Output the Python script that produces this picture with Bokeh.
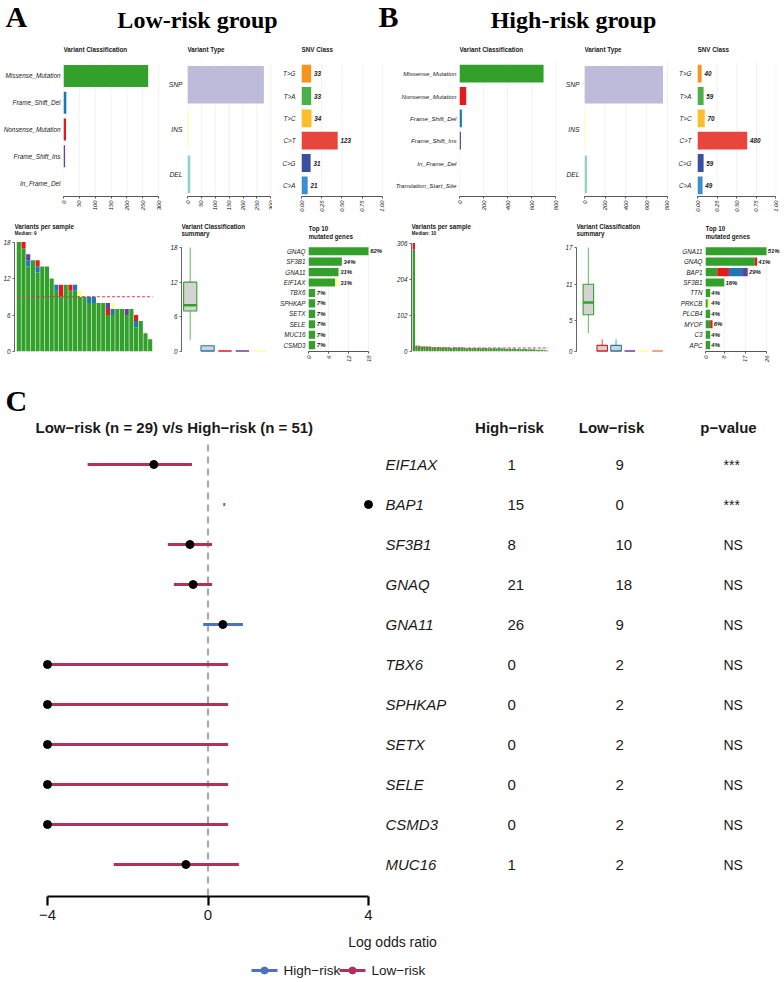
import math
from bokeh.plotting import figure
from bokeh.models import Range1d, LinearAxis, FixedTicker, NumeralTickFormatter
from bokeh.layouts import column, row
from bokeh.embed import file_html
from bokeh.resources import INLINE
from bokeh.core.properties import value

SANS = "Liberation Sans"
SERIF = "Liberation Serif"
TXT = "#1a1a1a"

# ======================= DATA =======================
panel_letters = ["A", "B", "C"]
group_titles = ["Low-risk group", "High-risk group"]

lr_vc_names = ["Missense_Mutation", "Frame_Shift_Del", "Nonsense_Mutation", "Frame_Shift_Ins", "In_Frame_Del"]
lr_vc_counts = [267, 9, 8, 5, 1]
hr_vc_names = ["Missense_Mutation", "Nonsense_Mutation", "Frame_Shift_Del", "Frame_Shift_Ins",
               "In_Frame_Del", "Translation_Start_Site"]
hr_vc_counts = [700, 56, 20, 12, 4, 1]

vt_names = ["SNP", "INS", "DEL"]
lr_vt_counts = [275, 5, 10]
hr_vt_counts = [757, 12, 24]

snv_names = ["T>G", "T>A", "T>C", "C>T", "C>G", "C>A"]
lr_snv_counts = [33, 33, 34, 123, 31, 21]
hr_snv_counts = [40, 59, 70, 480, 59, 49]

# variants per sample (stacked by classification)
lr_median = 9
lr_mis = [18, 17, 14, 15, 13, 14, 14, 12, 10, 9, 11, 10, 10, 9, 9, 8, 8, 8, 8, 6, 6, 7, 7, 6, 7, 4, 5, 3, 2]
lr_fsd = [0, 0, 1, 0, 1, 0, 0, 0, 1, 0, 0, 0, 1, 0, 0, 1, 1, 0, 0, 0, 1, 0, 0, 0, 0, 1, 0, 0, 0]
lr_non = [0, 1, 0, 0, 1, 0, 0, 0, 0, 2, 0, 1, 0, 0, 0, 0, 0, 0, 0, 1, 0, 0, 0, 0, 0, 1, 0, 0, 0]
lr_fsi = [0, 0, 1, 0, 0, 0, 0, 0, 0, 0, 0, 0, 0, 0, 0, 0, 0, 0, 0, 1, 0, 0, 0, 1, 0, 0, 0, 0, 0]
lr_ifd = [0, 0, 0, 0, 0, 0, 0, 0, 0, 0, 0, 0, 0, 1, 0, 0, 0, 0, 0, 0, 1, 0, 0, 0, 0, 0, 0, 0, 0]

hr_median = 10
hr_mis = [288, 16, 15, 14, 14, 13, 13, 12, 12, 12, 11, 11, 11, 11, 10, 10, 10, 11, 10, 9,
          9, 10, 9, 9, 10, 9, 9, 10, 8, 9, 8, 9, 9, 8, 8, 7, 8, 7, 8, 7,
          6, 6, 7, 6, 6, 6, 5, 5, 5, 4, 3]
hr_fsd = [0, 0, 0, 1, 0, 0, 1, 0, 1, 0, 0, 0, 1, 0, 0, 0, 1, 0, 0, 0,
          0, 0, 1, 0, 0, 0, 0, 0, 1, 0, 0, 0, 0, 1, 0, 0, 0, 0, 0, 0,
          1, 0, 0, 0, 0, 0, 0, 0, 0, 0, 0]
hr_non = [18, 1, 1, 0, 1, 1, 0, 1, 0, 1, 0, 1, 0, 1, 0, 1, 0, 0, 1, 0,
          1, 0, 0, 1, 0, 0, 1, 0, 0, 0, 1, 0, 0, 0, 0, 1, 0, 0, 0, 0,
          0, 1, 0, 0, 0, 0, 0, 0, 0, 0, 0]
hr_fsi = [0, 0, 0, 0, 0, 0, 0, 0, 0, 0, 1, 0, 0, 0, 0, 0, 0, 0, 0, 0,
          0, 0, 0, 0, 0, 1, 0, 0, 0, 0, 0, 0, 0, 0, 0, 0, 0, 1, 0, 0,
          0, 0, 0, 0, 0, 0, 0, 0, 0, 0, 0]
hr_ifd = [0, 0, 0, 0, 0, 0, 0, 0, 0, 0, 0, 0, 0, 0, 1, 0, 0, 0, 0, 0,
          0, 0, 0, 0, 0, 0, 0, 0, 0, 0, 0, 0, 0, 0, 0, 0, 0, 0, 0, 0,
          0, 0, 0, 0, 0, 0, 0, 0, 0, 0, 0]
hr_tss = [0, 0, 0, 0, 0, 0, 0, 0, 0, 0, 0, 0, 0, 0, 0, 0, 0, 0, 0, 1,
          0, 0, 0, 0, 0, 0, 0, 0, 0, 0, 0, 0, 0, 0, 0, 0, 0, 0, 0, 0,
          0, 0, 0, 0, 0, 0, 0, 0, 0, 0, 0]

# variant classification summary (box statistics per class)
lr_sum_lo = [2, 0, 0, 0, 0]
lr_sum_q1 = [7, 0, 0, 0, 0]
lr_sum_med = [8, 0, 0, 0, 0]
lr_sum_q3 = [12, 1, 0, 0, 0]
lr_sum_hi = [18, 1, 0, 0, 0]
hr_sum_lo = [3, 0, 0, 0, 0, 0]
hr_sum_q1 = [6, 0, 0, 0, 0, 0]
hr_sum_med = [8, 0, 0, 0, 0, 0]
hr_sum_q3 = [11, 1, 1, 0, 0, 0]
hr_sum_hi = [17, 2, 2, 0, 0, 0]

# top 10 mutated genes
lr_genes = ["GNAQ", "SF3B1", "GNA11", "EIF1AX", "TBX6", "SPHKAP", "SETX", "SELE", "MUC16", "CSMD3"]
lr_g_mis = [18, 10, 9, 8, 2, 2, 2, 2, 2, 2]
lr_g_ifd = [0, 0, 0, 1, 0, 0, 0, 0, 0, 0]
lr_g_pct = ["62%", "34%", "31%", "31%", "7%", "7%", "7%", "7%", "7%", "7%"]
hr_genes = ["GNA11", "GNAQ", "BAP1", "SF3B1", "TTN", "PRKCB", "PLCB4", "MYOF", "C3", "APC"]
hr_g_mis = [26, 21, 5, 8, 2, 1, 2, 2, 2, 2]
hr_g_non = [0, 1, 5, 0, 0, 0, 0, 1, 0, 0]
hr_g_fsd = [0, 0, 6, 0, 0, 0, 0, 0, 0, 0]
hr_g_fsi = [0, 0, 2, 0, 0, 0, 0, 0, 0, 0]
hr_g_ifd = [0, 0, 0, 0, 0, 1, 0, 0, 0, 0]
hr_g_pct = ["51%", "41%", "29%", "16%", "4%", "4%", "4%", "6%", "4%", "4%"]

# tick values
lr_vc_ticks = [0, 50, 100, 150, 200, 250, 300]
hr_vc_ticks = [0, 200, 400, 600, 800]
snv_ticks = [0, 0.25, 0.5, 0.75, 1.0]
lr_vps_ticks = [0, 6, 12, 18]
hr_vps_ticks = [0, 102, 204, 306]
lr_sum_ticks = [0, 6, 12, 18]
hr_sum_ticks = [0, 5, 11, 17]
lr_top_ticks = [0, 6, 12, 18]
hr_top_ticks = [0, 8, 17, 26]

# forest plot (Low-risk vs High-risk)
forest_title = "Low\u2212risk (n = 29) v/s High\u2212risk (n = 51)"
forest_genes = ["EIF1AX", "BAP1", "SF3B1", "GNAQ", "GNA11", "TBX6", "SPHKAP", "SETX", "SELE", "CSMD3", "MUC16"]
forest_high = [1, 15, 8, 21, 26, 0, 0, 0, 0, 0, 1]
forest_low = [9, 0, 10, 18, 9, 2, 2, 2, 2, 2, 2]
forest_p = ["***", "***", "NS", "NS", "NS", "NS", "NS", "NS", "NS", "NS", "NS"]
forest_est = [-1.35, 4.0, -0.45, -0.37, 0.37, -4.0, -4.0, -4.0, -4.0, -4.0, -0.55]
forest_lo = [-3.0, 0.38, -1.0, -0.85, -0.12, -4.0, -4.0, -4.0, -4.0, -4.0, -2.35]
forest_hi = [-0.4, 0.43, 0.1, 0.1, 0.87, 0.5, 0.5, 0.5, 0.5, 0.5, 0.77]
forest_grp = ["Low", "High", "Low", "Low", "High", "Low", "Low", "Low", "Low", "Low", "Low"]
forest_ticks = [-4, 0, 4]
forest_headers = ["High\u2212risk", "Low\u2212risk", "p\u2212value"]
legend_labels = ["High\u2212risk", "Low\u2212risk"]

# ======================= STYLE =======================
VC_COL = {"Missense_Mutation": "#33A02C", "Frame_Shift_Del": "#1F78B4",
          "Nonsense_Mutation": "#E31A1C", "Frame_Shift_Ins": "#6A3D9A",
          "In_Frame_Del": "#FFFF99", "Translation_Start_Site": "#F4845F"}
VT_COL = ["#BEBADA", "#FFFFB3", "#8DD3C7"]
SNV_COL = ["#F7941D", "#4DAF4A", "#FDBE2C", "#E8453C", "#3A4FA0", "#3C8DD3"]
HI_COL = "#4A72C2"
LO_COL = "#B3305E"
GRID = "#EDEDED"


def mkfig(W, H, bl, br, bt, bb, xr, yr):
    p = figure(width=W, height=H, x_range=Range1d(*xr), y_range=Range1d(*yr),
               output_backend="svg", toolbar_location=None,
               x_axis_location=None, y_axis_location=None,
               min_border_left=bl, min_border_right=br,
               min_border_top=bt, min_border_bottom=bb)
    p.outline_line_color = None
    p.background_fill_color = "white"
    p.border_fill_color = "white"
    p.xgrid.visible = False
    p.ygrid.visible = False
    return p


def txt(p, x, y, text, size, style="normal", align="left", font=SANS, color=TXT):
    p.text(x=x, y=y, text=text, text_font=value(font), text_font_size=size,
           text_font_style=style, text_align=align, text_baseline="middle", text_color=color)


def cat_axis(p, labels, size, standoff):
    ax = LinearAxis(ticker=FixedTicker(ticks=list(range(len(labels)))),
                    major_label_overrides={i: t for i, t in enumerate(labels)})
    ax.axis_line_color = None
    ax.major_tick_line_color = None
    ax.major_tick_out = 0
    ax.major_tick_in = 0
    ax.minor_tick_line_color = None
    ax.minor_tick_out = 0
    ax.major_label_text_font = SANS
    ax.major_label_text_font_size = size
    ax.major_label_text_font_style = "italic"
    ax.major_label_text_color = TXT
    ax.major_label_standoff = standoff
    p.add_layout(ax, "left")


def num_axis(p, ticks, place, size="5.8px", rotate=False, fmt=None, color="#444444"):
    ax = LinearAxis(ticker=FixedTicker(ticks=ticks), bounds=(ticks[0], ticks[-1]))
    if fmt is not None:
        ax.formatter = fmt
    ax.axis_line_color = color
    ax.axis_line_width = 0.9
    ax.major_tick_line_color = color
    ax.major_tick_line_width = 0.9
    ax.major_tick_out = 2
    ax.major_tick_in = 0
    ax.minor_tick_line_color = None
    ax.minor_tick_out = 0
    ax.major_label_text_font = SANS
    ax.major_label_text_font_size = size
    ax.major_label_text_font_style = "italic"
    ax.major_label_text_color = TXT
    ax.major_label_standoff = 2
    if rotate:
        ax.major_label_orientation = math.pi / 2
    p.add_layout(ax, place)


def vgrid(p, ticks, y0, y1):
    p.segment(x0=ticks, y0=[y0] * len(ticks), x1=ticks, y1=[y1] * len(ticks),
              line_color=GRID, line_width=0.7)


# ======================= HEADER (page y 0..40) =======================
hdr = mkfig(784, 40, 0, 0, 0, 0, (0, 784), (40, 0))
txt(hdr, [5, 378], [16, 16], panel_letters[:2], "30px", "bold", font=SERIF, color="black")
txt(hdr, [197, 573], [19, 19], group_titles, "24px", "bold", "center", font=SERIF, color="black")


# ======================= ROW 1 (page y 40..215) =======================
def bar_panel(W, bl, br, xmax, names, vals, colors, ticks, title, lab_size, standoff,
              fmt=None, bar_h=0.82, value_text=None):
    n = len(names)
    band = (196 - 62) / n
    xr = (0, xmax)
    yr = (n - 0.5, -0.5 - (62 - 40) / band)
    p = mkfig(W, 175, bl, br, 0, 19, xr, yr)
    vgrid(p, ticks, -0.5, n - 0.5)
    p.hbar(y=list(range(n)), left=0, right=vals, height=bar_h,
           fill_color=colors, line_color=None)
    if value_text is not None:
        txt(p, [v + 0.035 for v in vals], list(range(n)), value_text, "6.3px", "bold italic")
    cat_axis(p, names, lab_size, standoff)
    num_axis(p, ticks, "below", rotate=True, fmt=fmt)
    txt(p, [0], [-0.5 - (62 - 49) / band], [title], "6.3px", "bold")
    return p


lr_snv_frac = [c / sum(lr_snv_counts) for c in lr_snv_counts]
hr_snv_frac = [c / sum(hr_snv_counts) for c in hr_snv_counts]
f2 = NumeralTickFormatter(format="0.00")

a_vc = bar_panel(165, 62, 4, 309, lr_vc_names, lr_vc_counts,
                 [VC_COL[k] for k in lr_vc_names], lr_vc_ticks, "Variant Classification", "6.4px", 3)
a_vt = bar_panel(107, 22, 0, 306, vt_names, lr_vt_counts, VT_COL, lr_vc_ticks,
                 "Variant Type", "6.7px", 5, bar_h=0.84)
a_snv = bar_panel(120, 29, 8, 1.025, snv_names, lr_snv_frac, SNV_COL, snv_ticks,
                  "SNV Class", "6.3px", 6, fmt=f2, bar_h=0.8,
                  value_text=[str(c) for c in lr_snv_counts])
b_vc = bar_panel(170, 67, 5, 816, hr_vc_names, hr_vc_counts,
                 [VC_COL[k] for k in hr_vc_names], hr_vc_ticks, "Variant Classification", "6.2px", 3,
                 bar_h=0.8)
b_vt = bar_panel(113, 21, 7, 810, vt_names, hr_vt_counts, VT_COL, hr_vc_ticks,
                 "Variant Type", "6.7px", 5, bar_h=0.84)
b_snv = bar_panel(109, 22, 7, 1.02, snv_names, hr_snv_frac, SNV_COL, snv_ticks,
                  "SNV Class", "6.3px", 6, fmt=f2, bar_h=0.8,
                  value_text=[str(c) for c in hr_snv_counts])


# ======================= ROW 2 (page y 215..365) =======================
def vps_panel(W, bl, br, xr, ytop_px, ticks, layers, colors, median, sub):
    ppu = (353 - ytop_px) / ticks[-1]
    yr = (0, ticks[-1] + (ytop_px - 215) / ppu)
    p = mkfig(W, 150, bl, br, 0, 12, xr, yr)
    n = len(layers[0])
    xs = [i + 0.5 for i in range(n)]
    base = [0] * n
    for vals, col in zip(layers, colors):
        top = [b + v for b, v in zip(base, vals)]
        p.vbar(x=xs, bottom=base, top=top, width=0.88, fill_color=col, line_color=None)
        base = top
    p.line(x=[0.1, n], y=[median, median], line_color="#E8315B", line_width=1.1,
           line_dash="3 2")
    num_axis(p, ticks, "left", size="6.3px", color="#555555")
    txt(p, [xr[0]], [(353 - 226) / ppu], ["Variants per sample"], "6.3px", "bold")
    txt(p, [xr[0]], [(353 - 233) / ppu], [sub], "4.8px", "bold")
    return p


def sum_panel(W, bl, br, xr, top_px, lo, q1, med, q3, hi, colors, ticks):
    ppu = (351 - top_px) / ticks[-1]
    yr = (0, ticks[-1] + (top_px - 215) / ppu)
    p = mkfig(W, 150, bl, br, 0, 14, xr, yr)
    n = len(lo)
    xs = list(range(n))
    w = 0.76
    p.segment(x0=xs, y0=lo, x1=xs, y1=hi, line_color=colors, line_width=1.1, line_alpha=0.7)
    p.quad(left=[x - w / 2 for x in xs], right=[x + w / 2 for x in xs], bottom=q1, top=q3,
           fill_color="#D3D3D3", line_color=colors, line_width=1.1)
    p.segment(x0=[x - w / 2 for x in xs], y0=med, x1=[x + w / 2 for x in xs], y1=med,
              line_color=colors, line_width=2.6)
    num_axis(p, ticks, "left", size="6.3px", color="#555555")
    txt(p, [xr[0]], [(351 - 226) / ppu], ["Variant Classification"], "6.3px", "bold")
    txt(p, [xr[0]], [(351 - 233) / ppu], ["summary"], "6.3px", "bold")
    return p


def top_panel(W, bl, br, xmax, genes, layers, colors, pct, ticks):
    n = len(genes)
    rs = 10.67
    xr = (0, xmax)
    yr = (n - 0.5 + (354 - (251.5 + (n - 0.5) * rs)) / rs, -0.5 - (251.5 - 0.5 * rs - 215) / rs)
    p = mkfig(W, 150, bl, br, 0, 11, xr, yr)
    vgrid(p, ticks, -0.5, n - 0.5)
    ys = list(range(n))
    base = [0] * n
    for vals, col in zip(layers, colors):
        right = [b + v for b, v in zip(base, vals)]
        p.hbar(y=ys, left=base, right=right, height=0.78, fill_color=col, line_color=None)
        base = right
    txt(p, [b + 0.5 for b in base], ys, pct, "6px", "bold italic")
    cat_axis(p, genes, "6.3px", 3)
    num_axis(p, ticks, "below", rotate=True)
    txt(p, [0], [(228 - 251.5) / rs], ["Top 10"], "6.3px", "bold")
    txt(p, [0], [(236 - 251.5) / rs], ["mutated genes"], "6.3px", "bold")
    return p


C = VC_COL
a_vps = vps_panel(165, 13, 12, (-0.423, 29.21), 242, lr_vps_ticks,
                  [lr_mis, lr_fsd, lr_non, lr_fsi, lr_ifd],
                  [C["Missense_Mutation"], C["Frame_Shift_Del"], C["Nonsense_Mutation"],
                   C["Frame_Shift_Ins"], C["In_Frame_Del"]], lr_median, "Median: %d" % lr_median)
a_sum = sum_panel(107, 16, 4, (-0.5, 4.5), 247, lr_sum_lo, lr_sum_q1, lr_sum_med, lr_sum_q3,
                  lr_sum_hi, [C[k] for k in lr_vc_names], lr_sum_ticks)
a_top = top_panel(120, 36, 9, 22.5, lr_genes, [lr_g_mis, lr_g_ifd],
                  [C["Missense_Mutation"], C["In_Frame_Del"]], lr_g_pct, lr_top_ticks)
b_vps = vps_panel(170, 19, 14, (-0.375, 51.0), 243, hr_vps_ticks,
                  [hr_mis, hr_fsd, hr_non, hr_fsi, hr_ifd, hr_tss],
                  [C["Missense_Mutation"], C["Frame_Shift_Del"], C["Nonsense_Mutation"],
                   C["Frame_Shift_Ins"], C["In_Frame_Del"], C["Translation_Start_Site"]],
                  hr_median, "Median: %d" % hr_median)
b_sum = sum_panel(113, 13, 11, (-0.857, 5.5), 247, hr_sum_lo, hr_sum_q1, hr_sum_med, hr_sum_q3,
                  hr_sum_hi, [C[k] for k in hr_vc_names], hr_sum_ticks)
b_top = top_panel(109, 30, 0, 33.67, hr_genes,
                  [hr_g_mis, hr_g_non, hr_g_fsd, hr_g_fsi, hr_g_ifd],
                  [C["Missense_Mutation"], C["Nonsense_Mutation"], C["Frame_Shift_Del"],
                   C["Frame_Shift_Ins"], C["In_Frame_Del"]], hr_g_pct, hr_top_ticks)

# ======================= FOREST (page y 365..955) =======================
PPU = 40.125
fxr = (-4 - 47 / PPU, -4 + (784 - 47) / PPU)
fyr = (10.8, -2.475)
fp = mkfig(784, 590, 0, 0, 0, 59, fxr, fyr)


def fx(px):
    return -4 + (px - 47) / PPU


def fy(py):
    return (py - 464) / 40.0


rows = list(range(len(forest_genes)))
ref_x = 0
fp.segment(x0=[ref_x], y0=[-0.5], x1=[ref_x], y1=[fyr[0]], line_color="#ABABAB",
           line_width=2.2, line_dash="7 5")
fp.segment(x0=forest_lo, y0=rows, x1=forest_hi, y1=rows,
           line_color=[HI_COL if g == "High" else LO_COL for g in forest_grp], line_width=3)
fp.scatter(x=forest_est, y=rows, size=8, color="black")

txt(fp, [fx(5)], [fy(400)], [panel_letters[2]], "30px", "bold", font=SERIF, color="black")
txt(fp, [fx(35)], [fy(427)], [forest_title], "15px", "bold")
txt(fp, [fx(509), fx(611), fx(728)], [fy(427)] * 3, forest_headers, "15px", "bold", "center")
txt(fp, [fx(385)] * len(rows), rows, forest_genes, "15px", "italic")
txt(fp, [fx(507)] * len(rows), rows, [str(v) for v in forest_high], "15px")
txt(fp, [fx(615)] * len(rows), rows, [str(v) for v in forest_low], "15px")
txt(fp, [fx(723)] * len(rows), rows, forest_p, "14px")

fax = LinearAxis(ticker=FixedTicker(ticks=forest_ticks), bounds=(forest_ticks[0], forest_ticks[-1]),
                 major_label_overrides={t: ("\u2212%d" % -t if t < 0 else "%d" % t) for t in forest_ticks})
fax.axis_line_width = 2.2
fax.axis_line_color = "black"
fax.major_tick_line_width = 2.2
fax.major_tick_line_color = "black"
fax.major_tick_out = 9
fax.major_tick_in = 0
fax.minor_tick_line_color = None
fax.minor_tick_out = 0
fax.major_label_text_font = SANS
fax.major_label_text_font_size = "15px"
fax.major_label_text_color = TXT
fax.major_label_standoff = 4
fax.axis_label = "Log odds ratio"
fax.axis_label_text_font = SANS
fax.axis_label_text_font_size = "14px"
fax.axis_label_text_font_style = "normal"
fax.axis_label_text_color = TXT
fax.axis_label_standoff = 11
fp.add_layout(fax, "below")

# ======================= LEGEND (page y 955..982) =======================
lg = mkfig(784, 27, 0, 0, 0, 0, (0, 784), (27, 0))
leg_cols = [HI_COL, LO_COL]
leg_x = [251, 339]
ly = 15
lg.segment(x0=leg_x, y0=[ly] * 2, x1=[x + 26 for x in leg_x], y1=[ly] * 2,
           line_color=leg_cols, line_width=3)
lg.scatter(x=[x + 13 for x in leg_x], y=[ly] * 2, size=7, color=leg_cols)
txt(lg, [x + 32 for x in leg_x], [ly] * 2, legend_labels, "13.5px")

layout = column(hdr,
                row(a_vc, a_vt, a_snv, b_vc, b_vt, b_snv),
                row(a_vps, a_sum, a_top, b_vps, b_sum, b_top),
                fp, lg)

open("out.html", "w").write(file_html(layout, INLINE))
